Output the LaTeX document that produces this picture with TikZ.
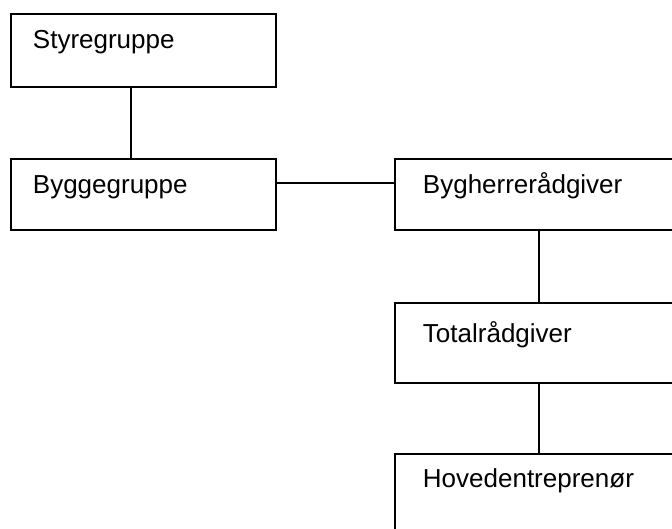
\documentclass[tikz,border=0pt]{standalone}
\usepackage{fontspec}
\setmainfont{Liberation Sans}
\usetikzlibrary{positioning}

\tikzset{
  orgbox/.style={draw, line width=1.9pt, anchor=north west, inner ysep=0pt,
    align=left, font=\fontsize{26}{30}\selectfont, text height=35pt},
  orgline/.style={line width=1.9pt},
}

\begin{document}
\begin{tikzpicture}[x=1pt, y=-1pt]
  % Page frame
  \useasboundingbox (0,0) rectangle (672,529);
  \clip (0,0) rectangle (672,529);

  % Left column
  \node[orgbox, inner xsep=22pt, text width=221pt, text depth=38pt] (styre) at (10,13) {Styregruppe};
  \node[orgbox, inner xsep=22pt, text width=221pt, text depth=36pt] (bygge) at (10,158) {Byggegruppe};

  % Right column (runs past the right edge)
  \node[orgbox, inner xsep=28pt, text width=232pt, text depth=36pt] (raad) at (394,158) {Bygherrerådgiver};
  \node[orgbox, inner xsep=28pt, text width=232pt, text height=40pt, text depth=40pt] (total) at (394,302) {Totalrådgiver};
  \node[orgbox, inner xsep=28pt, text width=232pt, text height=34pt, text depth=46pt] (hoved) at (394,453) {Hovedentreprenør};

  % Connectors
  \draw[orgline] ([xshift=-12.5pt]styre.south) -- ([xshift=-12.5pt]bygge.north);
  \draw[orgline] ([yshift=11.5pt]bygge.east) -- ([yshift=11.5pt]raad.west);
  \draw[orgline] (raad.south) -- (total.north);
  \draw[orgline] (total.south) -- (hoved.north);
\end{tikzpicture}
\end{document}
